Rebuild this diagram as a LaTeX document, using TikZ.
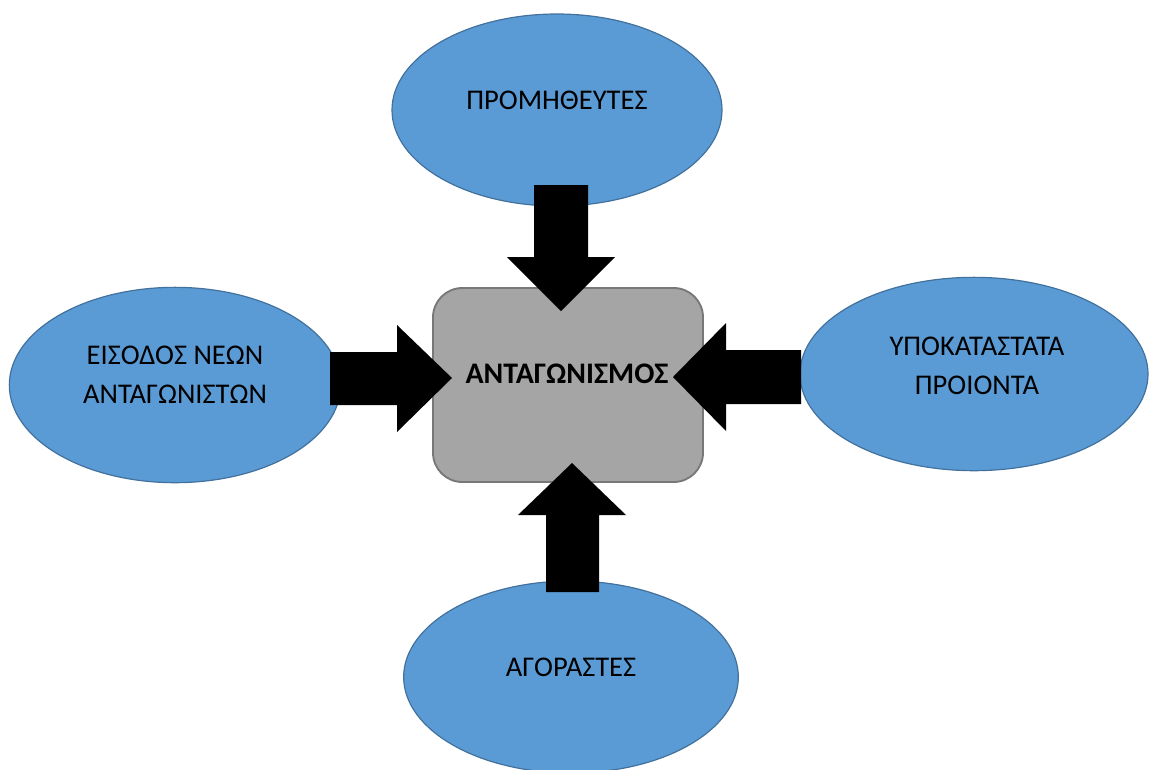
\documentclass[tikz,border=0pt]{standalone}
\usepackage{fontspec}
\setmainfont{Carlito}
\usetikzlibrary{shapes.geometric}

\definecolor{ovalfill}{RGB}{91,155,213}
\definecolor{ovaldraw}{RGB}{65,113,156}
\definecolor{boxfill}{RGB}{165,165,165}
\definecolor{boxdraw}{RGB}{120,120,120}

\tikzset{
  oval/.style={ellipse, draw=ovaldraw, fill=ovalfill, line width=0.9pt, inner sep=0pt},
  ovaltext/.style={align=center, font=\fontsize{21.4}{29}\selectfont, inner sep=0pt},
  corebox/.style={rounded corners=22pt, draw=boxdraw, fill=boxfill, line width=1.4pt,
    minimum width=202.5pt, minimum height=145.5pt, inner sep=0pt},
  blockarrow/.style={fill=black, draw=none}
}

\begin{document}
\begin{tikzpicture}[x=0.75pt,y=0.75pt,yscale=-1,xscale=1]
\useasboundingbox (0,0) rectangle (1149,769);

%Shape: Ellipse
\node[oval, minimum width=247.5pt, minimum height=144pt] (suppliers) at (557,110) {};
\node[ovaltext] (supplierstxt) at (557,100) {ΠΡΟΜΗΘΕΥΤΕΣ};

%Shape: Ellipse
\node[oval, minimum width=248.5pt, minimum height=146.5pt] (entrants) at (175,385) {};
\node[ovaltext] (entrantstxt) at (175,375) {ΕΙΣΟΔΟΣ ΝΕΩΝ\\ΑΝΤΑΓΩΝΙΣΤΩΝ};

%Shape: Ellipse
\node[oval, minimum width=261pt, minimum height=145pt] (substitutes) at (974,374) {};
\node[ovaltext] (substitutestxt) at (977,366) {ΥΠΟΚΑΤΑΣΤΑΤΑ\\ΠΡΟΙΟΝΤΑ};

%Shape: Ellipse
\node[oval, minimum width=251pt, minimum height=144pt] (buyers) at (571,677) {};
\node[ovaltext] (buyerstxt) at (571,667) {ΑΓΟΡΑΣΤΕΣ};

%Shape: Rounded Rect
\node[corebox] (rivalry) at (568,385) {};
\node[ovaltext, font=\fontsize{22.4}{29}\selectfont\bfseries] (rivalrytxt) at (567,374) {ΑΝΤΑΓΩΝΙΣΜΟΣ};

%Shape: Down Arrow
\draw[blockarrow] (534,185) -- (588,185) -- (588,257) -- (615,257) -- (561,311) -- (507,257) -- (534,257) -- cycle ;
%Shape: Right Arrow
\draw[blockarrow] (330,352) -- (397,352) -- (397,325) -- (452,378) -- (397,432) -- (397,405) -- (330,405) -- cycle ;
%Shape: Left Arrow
\draw[blockarrow] (801,350) -- (726,350) -- (726,323) -- (673,377) -- (726,431) -- (726,404) -- (801,404) -- cycle ;
%Shape: Up Arrow
\draw[blockarrow] (546,592) -- (599,592) -- (599,515) -- (626,515) -- (572,463) -- (518,515) -- (546,515) -- cycle ;

\end{tikzpicture}
\end{document}
